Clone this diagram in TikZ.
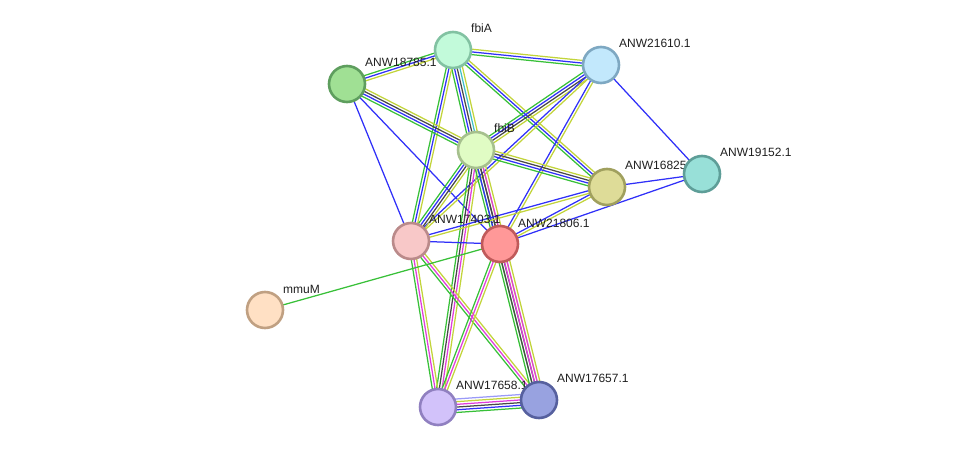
\documentclass[tikz,border=0pt]{standalone}
\usepackage{fontspec}
\setmainfont{Liberation Sans}
\usetikzlibrary{calc}
\pgfdeclarelayer{bg}
\pgfsetlayers{bg,main}
\definecolor{cG}{HTML}{38C038}
\definecolor{cB}{HTML}{3030F8}
\definecolor{cK}{HTML}{484848}
\definecolor{cM}{HTML}{E03CDC}
\definecolor{cC}{HTML}{40C0C8}
\definecolor{cY}{HTML}{C2D43A}
\definecolor{cL}{HTML}{9A9AF8}
\definecolor{fA}{HTML}{C2FADA}\definecolor{dA}{HTML}{82C2A2}
\definecolor{fQ}{HTML}{C2E8FC}\definecolor{dQ}{HTML}{7EA8C2}
\definecolor{fR}{HTML}{A0E094}\definecolor{dR}{HTML}{5E9E5E}
\definecolor{fB}{HTML}{E0FCC4}\definecolor{dB}{HTML}{A6C08E}
\definecolor{fS}{HTML}{DEDC98}\definecolor{dS}{HTML}{A0A05E}
\definecolor{fT}{HTML}{98E0D8}\definecolor{dT}{HTML}{5E9E98}
\definecolor{fU}{HTML}{F8C8C8}\definecolor{dU}{HTML}{BA8A8A}
\definecolor{fV}{HTML}{FF9898}\definecolor{dV}{HTML}{C05A5A}
\definecolor{fW}{HTML}{FFE0C4}\definecolor{dW}{HTML}{C0A082}
\definecolor{fX}{HTML}{D2C2FA}\definecolor{dX}{HTML}{9080C0}
\definecolor{fY}{HTML}{98A2E0}\definecolor{dY}{HTML}{56609E}
\tikzset{
  prot/.style={circle, minimum size=36pt, line width=2.6pt, inner sep=0pt},
  lab/.style={anchor=west, inner sep=0pt, text=black!88, font=\fontsize{12}{14}\selectfont},
  ln/.style={line width=1.25pt}
}
\newcommand\edgeset[4]{%
  \foreach \c [count=\i] in {#4} {%
    \pgfmathsetmacro\off{(\i-1-(#3-1)/2)*2.7}%
    \draw[ln, \c] ($(#1)!\off pt!90:(#2)$) -- ($(#2)!\off pt!-90:(#1)$);
  }}
\begin{document}
\begin{tikzpicture}[x=1pt, y=-1pt]
\useasboundingbox (0,0) rectangle (976,452);
% nodes
\node[prot, fill=fA, draw=dA] (fbiA) at (453,50) {};
\node[lab] (lfbiA) at (471,28) {fbiA};
\node[prot, fill=fQ, draw=dQ] (n21610) at (601,65) {};
\node[lab] (l21610) at (619,43) {ANW21610.1};
\node[prot, fill=fR, draw=dR] (n18785) at (347,84) {};
\node[lab] (l18785) at (365,62) {ANW18785.1};
\node[prot, fill=fB, draw=dB] (fbiB) at (476,150) {};
\node[lab] (lfbiB) at (494,128) {fbiB};
\node[prot, fill=fS, draw=dS] (n16825) at (607,187) {};
\node[lab] (l16825) at (625,165) {ANW16825.1};
\node[prot, fill=fT, draw=dT] (n19152) at (702,174) {};
\node[lab] (l19152) at (720,152) {ANW19152.1};
\node[prot, fill=fU, draw=dU] (n17403) at (411,241) {};
\node[lab] (l17403) at (429,219) {ANW17403.1};
\node[prot, fill=fV, draw=dV] (n21806) at (500,244) {};
\node[lab] (l21806) at (518,223) {ANW21806.1};
\node[prot, fill=fW, draw=dW] (mmuM) at (265,310) {};
\node[lab] (lmmuM) at (283,289) {mmuM};
\node[prot, fill=fX, draw=dX] (n17658) at (438,407) {};
\node[lab] (l17658) at (456,385) {ANW17658.1};
\node[prot, fill=fY, draw=dY] (n17657) at (539,400) {};
\node[lab] (l17657) at (557,378) {ANW17657.1};
% edges
\begin{pgfonlayer}{bg}
\edgeset{fbiA}{n18785}{3}{cG,cB,cY}
\edgeset{fbiA}{n21610}{3}{cG,cB,cY}
\edgeset{fbiA}{fbiB}{5}{cG,cB,cK,cC,cY}
\edgeset{fbiA}{n17403}{3}{cG,cB,cY}
\edgeset{fbiA}{n16825}{3}{cG,cB,cY}
\edgeset{n18785}{fbiB}{4}{cG,cB,cK,cY}
\edgeset{n18785}{n17403}{1}{cB}
\edgeset{n18785}{n21806}{1}{cB}
\edgeset{n21610}{fbiB}{4}{cG,cB,cK,cY}
\edgeset{n21610}{n17403}{2}{cB,cY}
\edgeset{n21610}{n21806}{2}{cB,cY}
\edgeset{n21610}{n19152}{1}{cB}
\edgeset{fbiB}{n16825}{4}{cG,cB,cK,cY}
\edgeset{fbiB}{n17403}{4}{cG,cB,cK,cY}
\edgeset{fbiB}{n17658}{4}{cG,cK,cM,cY}
\edgeset{fbiB}{n17657}{3}{cG,cK,cY}
\edgeset{fbiB}{n21806}{5}{cG,cB,cK,cM,cY}
\edgeset{n16825}{n17403}{2}{cB,cY}
\edgeset{n16825}{n21806}{2}{cB,cY}
\edgeset{n16825}{n19152}{1}{cB}
\edgeset{n19152}{n21806}{1}{cB}
\edgeset{n17403}{n21806}{1}{cB}
\edgeset{n17403}{n17658}{3}{cG,cM,cY}
\edgeset{n17403}{n17657}{3}{cG,cM,cY}
\edgeset{n21806}{mmuM}{1}{cG}
\edgeset{n21806}{n17658}{3}{cG,cM,cY}
\edgeset{n21806}{n17657}{5}{cG,cK,cM,cM,cY}
\edgeset{n17658}{n17657}{6}{cG,cB,cK,cM,cY,cL}
\end{pgfonlayer}
\end{tikzpicture}
\end{document}
